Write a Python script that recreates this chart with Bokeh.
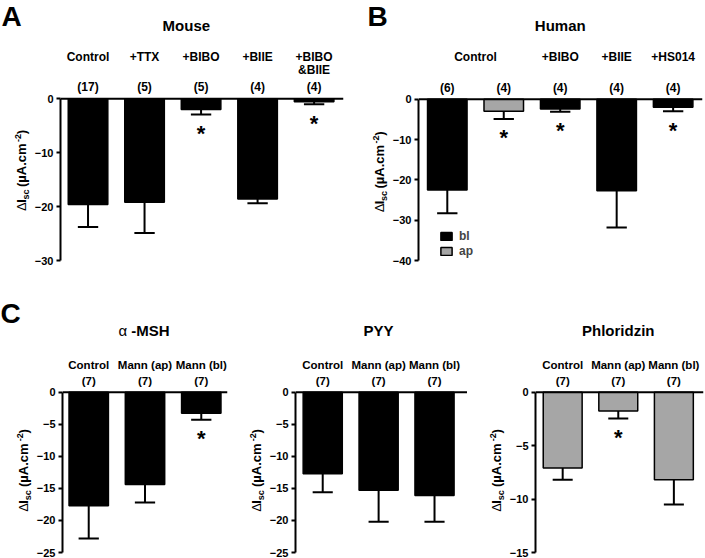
import math
from bokeh.plotting import figure
from bokeh.models import (Range1d, FixedTicker, Span, Label, LabelSet,
                          ColumnDataSource, Legend, LegendItem)
from bokeh.core.properties import value
from bokeh.layouts import row, column
from bokeh.embed import file_html
from bokeh.resources import INLINE

FONT = "Liberation Sans"
SIDE_COLOR = {"bl": "#000000", "ap": "#a6a6a6"}

# ---------------- data ----------------
# A: Mouse
mouse_groups = ["Control", "+TTX", "+BIBO", "+BIIE", "+BIBO\n&BIIE"]
mouse_side = ["bl", "bl", "bl", "bl", "bl"]
mouse_n = ["(17)", "(5)", "(5)", "(4)", "(4)"]
mouse_mean = [-19.6, -19.2, -2.0, -18.6, -0.55]
mouse_sem = [4.2, 5.7, 0.9, 0.8, 0.45]
mouse_sig = [False, False, True, False, True]
mouse_ticks = [-30, -20, -10, 0]

# B: Human
human_groups = ["Control", "Control", "+BIBO", "+BIIE", "+HS014"]
human_side = ["bl", "ap", "bl", "bl", "bl"]
human_n = ["(6)", "(4)", "(4)", "(4)", "(4)"]
human_mean = [-22.5, -3.0, -2.4, -22.7, -2.0]
human_sem = [5.8, 1.9, 0.7, 9.1, 1.0]
human_sig = [False, True, True, False, True]
human_ticks = [-40, -30, -20, -10, 0]

# C: alpha-MSH, PYY, Phloridzin
c_groups = ["Control", "Mann (ap)", "Mann (bl)"]
c_n = ["(7)", "(7)", "(7)"]
msh_side = ["bl", "bl", "bl"]
msh_mean = [-17.7, -14.4, -3.3]
msh_sem = [5.1, 2.8, 1.0]
msh_sig = [False, False, True]
pyy_side = ["bl", "bl", "bl"]
pyy_mean = [-12.7, -15.3, -16.1]
pyy_sem = [2.9, 4.9, 4.1]
pyy_sig = [False, False, False]
phl_side = ["ap", "ap", "ap"]
phl_mean = [-7.1, -1.75, -8.2]
phl_sem = [1.1, 0.7, 2.3]
phl_sig = [False, True, False]
c_ticks_25 = [-25, -20, -15, -10, -5, 0]
c_ticks_15 = [-15, -10, -5, 0]

# ---------------- helpers ----------------
# (text, size px, style, baseline shift px (+ = lower), advance in em, gap before px)
YL_PIECES = [("\u0394", 13, "normal", 0, 0.61, 0), ("I", 13, "bold", 0, 0.278, 0),
             ("sc", 9, "bold", 3, 1.112, 0), ("(\u00b5A.cm", 13, "bold", 0, 3.389, 3.6),
             ("-2", 9, "bold", -5, 0.889, 2.5), (")", 13, "bold", 0, 0.333, 0)]

AXIS_W = 24


def make_main(width, height, right, bottom, zero_px, ymin, xr, ticks):
    """Bar panel whose frame reaches the top of the figure; zero line at zero_px."""
    base_px = height - bottom
    scale = (base_px - zero_px) / (-ymin)
    ymax = zero_px / scale
    p = figure(width=width, height=height, x_range=Range1d(*xr), y_range=Range1d(ymin, ymax),
               x_axis_location=None, toolbar_location=None, output_backend="svg", tools="",
               min_border_left=AXIS_W, min_border_right=right,
               min_border_top=0, min_border_bottom=bottom)
    p.outline_line_color = None
    p.grid.visible = False
    p.background_fill_color = "white"
    p.border_fill_color = "white"
    ax = p.yaxis[0]
    ax.ticker = FixedTicker(ticks=ticks)
    ax.bounds = (ymin, 0)
    ax.axis_line_width = 2
    ax.axis_line_color = "black"
    ax.major_tick_line_width = 2
    ax.major_tick_out = 4
    ax.major_tick_in = 0
    ax.minor_tick_line_color = None
    ax.major_label_text_font = FONT
    ax.major_label_text_font_style = "bold"
    ax.major_label_text_font_size = "11px"
    ax.major_label_text_color = "black"
    ax.major_label_standoff = 3
    p.add_layout(Span(location=0, dimension="width", line_color="black", line_width=2))
    return p


def make_strip(width, height):
    p = figure(width=width, height=height, x_range=Range1d(0, width), y_range=Range1d(0, height),
               x_axis_location=None, y_axis_location=None, toolbar_location=None,
               output_backend="svg", tools="", min_border=0)
    p.outline_line_color = None
    p.grid.visible = False
    p.background_fill_color = "white"
    p.border_fill_color = "white"
    return p


def draw_bars(p, means, sems, sides):
    rends = {}
    for side in ("bl", "ap"):
        idx = [i for i, s in enumerate(sides) if s == side]
        if not idx:
            continue
        src = ColumnDataSource(dict(x=idx, m=[means[i] for i in idx]))
        rends[side] = p.vbar(x="x", top=0, bottom="m", width=0.7, source=src,
                             fill_color=SIDE_COLOR[side], line_color="black", line_width=1.5)
    xs = list(range(len(means)))
    err = [m - s for m, s in zip(means, sems)]
    esrc = ColumnDataSource(dict(x=xs, m=means, e=err,
                                 xl=[x - 0.18 for x in xs], xr=[x + 0.18 for x in xs]))
    p.segment(x0="x", y0="m", x1="x", y1="e", source=esrc, line_color="black", line_width=2)
    p.segment(x0="xl", y0="e", x1="xr", y1="e", source=esrc, line_color="black", line_width=2)
    return rends, err


def stars(p, err, sig):
    xs = [i for i, s in enumerate(sig) if s]
    ys = [err[i] for i in xs]
    src = ColumnDataSource(dict(x=xs, y=ys, t=["*"] * len(xs)))
    p.add_layout(LabelSet(x="x", y="y", text="t", source=src, y_offset=-19,
                          text_font=value(FONT), text_font_style="bold", text_font_size="22px",
                          text_align="center", text_baseline="middle", text_color="black"))


def text_row(p, xs, texts, off, size="12px"):
    src = ColumnDataSource(dict(x=xs, y=[0] * len(xs), t=texts))
    p.add_layout(LabelSet(x="x", y="y", text="t", source=src, y_offset=off,
                          text_font=value(FONT), text_font_style="bold", text_font_size=size,
                          text_align="center", text_baseline="middle", text_color="black"))


def label(p, x, y, text, xo=0, yo=0, size="15px", style="bold", align="center",
          baseline="middle", angle=0):
    p.add_layout(Label(x=x, y=y, text=text, x_offset=xo, y_offset=yo, angle=angle,
                       text_font=FONT, text_font_style=style, text_font_size=size,
                       text_align=align, text_baseline=baseline, text_color="black"))


def ylabel(strip, base_x, y_center):
    total = sum(s * w + g for _, s, _, _, w, g in YL_PIECES)
    cum = y_center - total / 2.0
    for txt, s, st, shift, w, g in YL_PIECES:
        cum += g
        mid_x = base_x + shift - 0.3465 * s
        label(strip, mid_x, cum + s * w / 2.0, txt, size="%dpx" % s, style=st,
              align="center", baseline="middle", angle=math.pi / 2)
        cum += s * w


def letter(strip, txt, x, y_mid):
    label(strip, x, y_mid, txt, size="28px", style="bold", align="left", baseline="middle")


# ---------------- Panel A ----------------
TOP_H = 272
sA = make_strip(31, TOP_H)
letter(sA, "A", 1, TOP_H - 16.5)
ylabel(sA, 26, TOP_H - 177.5)

pA = make_main(321, TOP_H, 9, 11, 98.7, -30, (-0.487, 4.52), mouse_ticks)
rA, eA = draw_bars(pA, mouse_mean, mouse_sem, mouse_side)
stars(pA, eA, mouse_sig)
xsA = list(range(len(mouse_groups)))
text_row(pA, xsA, [g.split("\n")[0] for g in mouse_groups], 42)
two = [i for i, g in enumerate(mouse_groups) if "\n" in g]
text_row(pA, two, [mouse_groups[i].split("\n")[1] for i in two], 28.5)
text_row(pA, xsA, mouse_n, 11.5)
label(pA, 1.74, 0, "Mouse", yo=73.5, size="15px")

# ---------------- Panel B ----------------
sB = make_strip(37, TOP_H)
letter(sB, "B", 15, TOP_H - 16.5)
ylabel(sB, 32, TOP_H - 179)

pB = make_main(316, TOP_H, 3, 12, 98.7, -40, (-0.51, 4.52), human_ticks)
rB, eB = draw_bars(pB, human_mean, human_sem, human_side)
stars(pB, eB, human_sig)
gx, gt = [], []
i = 0
while i < len(human_groups):
    j = i
    while j + 1 < len(human_groups) and human_groups[j + 1] == human_groups[i]:
        j += 1
    gx.append((i + j) / 2.0)
    gt.append(human_groups[i])
    i = j + 1
text_row(pB, gx, gt, 42.5)
text_row(pB, list(range(len(human_n))), human_n, 11.5)
label(pB, 2.0, 0, "Human", yo=73.5, size="15px")
leg = Legend(items=[LegendItem(label="bl", renderers=[rB["bl"]]),
                    LegendItem(label="ap", renderers=[rB["ap"]])],
             location=(21, 2), padding=0, margin=0, spacing=1,
             glyph_width=14, glyph_height=10, label_height=10, label_standoff=6,
             border_line_color=None, background_fill_alpha=0,
             label_text_font=FONT, label_text_font_style="bold", label_text_font_size="12px")
pB.add_layout(leg)

# ---------------- Panel C ----------------
BOT_H = 286
C_ZERO = 119.7


def c_panel(width, right, xr, ymin, ticks, means, sems, sides, sig, title, tx):
    p = make_main(width, BOT_H, right, 6, C_ZERO, ymin, xr, ticks)
    r, e = draw_bars(p, means, sems, sides)
    stars(p, e, sig)
    xs = list(range(len(c_groups)))
    text_row(p, xs, c_groups, 27, size="11.5px")
    text_row(p, xs, c_n, 11, size="11.5px")
    if title is not None:
        label(p, tx, 0, title, yo=62, size="15px")
    return p


sC1 = make_strip(33, BOT_H)
letter(sC1, "C", 0, BOT_H - 41.5)
ylabel(sC1, 28, BOT_H - 202)
pC1 = c_panel(197, 3, (-0.466, 2.466), -25, c_ticks_25,
              msh_mean, msh_sem, msh_side, msh_sig, None, 0)
label(pC1, 0.72, 0, "\u03b1", xo=-2, yo=62, size="15px", style="normal", align="right")
label(pC1, 0.72, 0, "-MSH", xo=2, yo=62, size="15px", style="bold", align="left")

sC2 = make_strip(36, BOT_H)
ylabel(sC2, 31, BOT_H - 202)
pC2 = c_panel(201, 0, (-0.487, 2.59), -25, c_ticks_25,
              pyy_mean, pyy_sem, pyy_side, pyy_sig, "PYY", 1.0)

sC3 = make_strip(39, BOT_H)
ylabel(sC3, 34, BOT_H - 202)
pC3 = c_panel(199, 2, (-0.489, 2.533), -15, c_ticks_15,
              phl_mean, phl_sem, phl_side, phl_sig, "Phloridzin", 1.0)

layout = column(row(sA, pA, sB, pB), row(sC1, pC1, sC2, pC2, sC3, pC3))
open("out.html", "w").write(file_html(layout, INLINE))
